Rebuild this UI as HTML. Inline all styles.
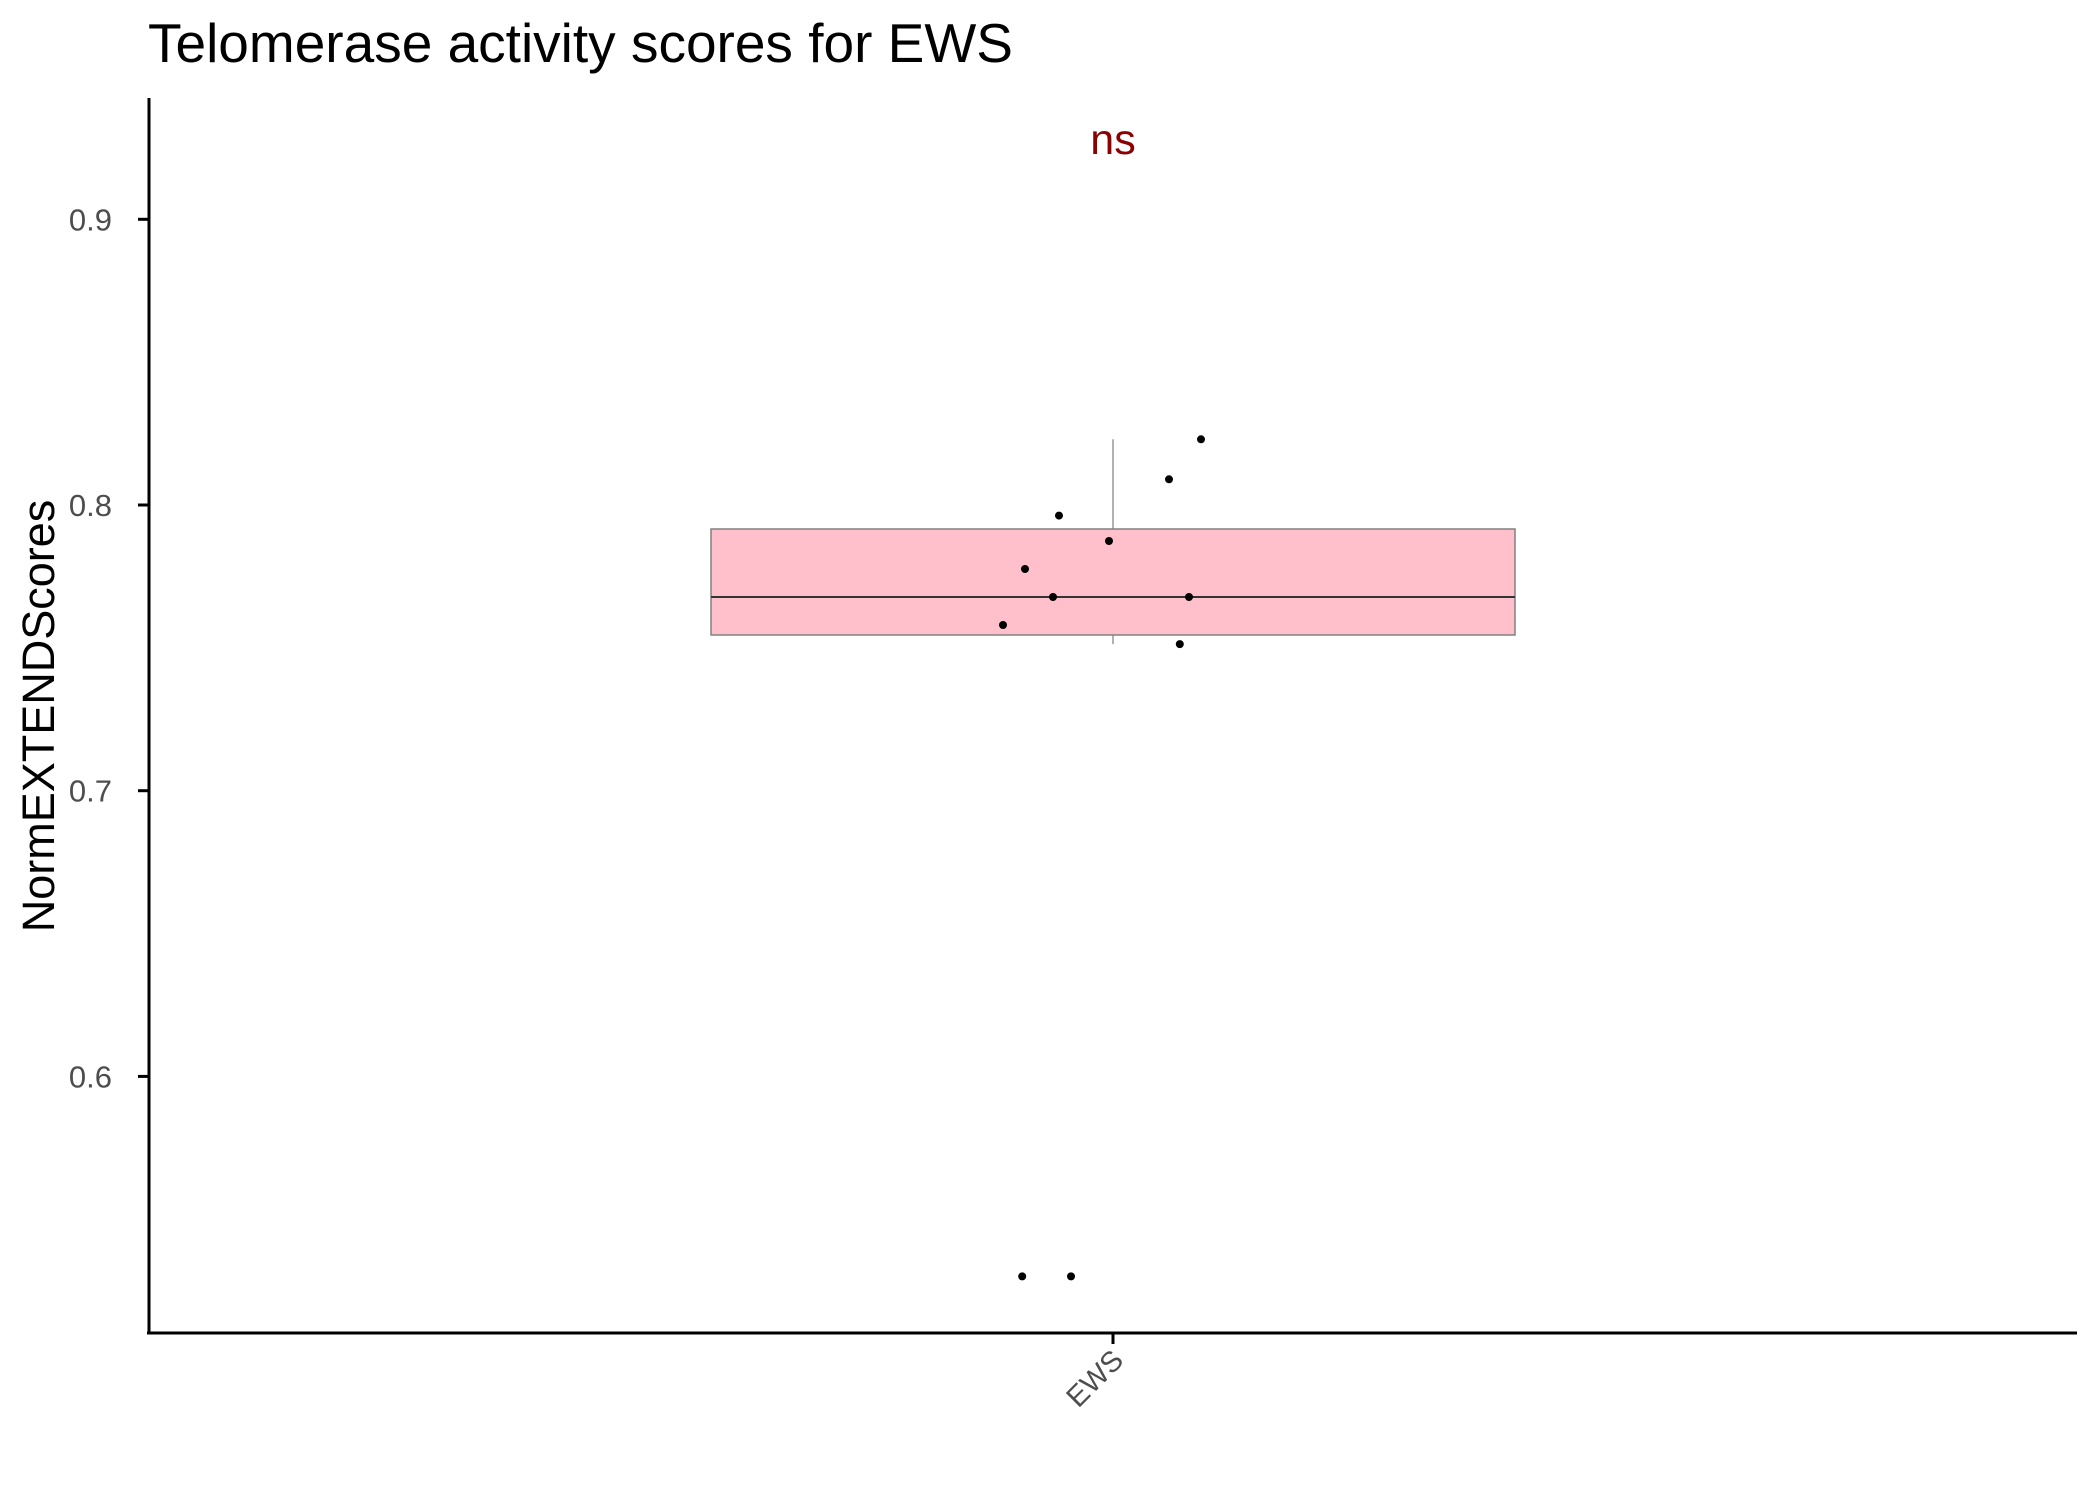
<!DOCTYPE html>
<html><head><meta charset="utf-8"><style>body{margin:0;background:#fff}svg{display:block}text{font-family:"Liberation Sans",sans-serif}</style></head>
<body>
<svg id="chart" width="2100" height="1500" viewBox="0 0 2100 1500">
<text x="148" y="62" font-size="55" fill="#000">Telomerase activity scores for EWS</text>
<g id="yaxis"></g>
<g id="plot"></g>
<line x1="149" y1="98" x2="149" y2="1334" stroke="#000" stroke-width="3"/>
<line x1="147" y1="1333" x2="2077" y2="1333" stroke="#000" stroke-width="3"/>
<text x="42" y="716" font-size="45" fill="#000" text-anchor="middle" transform="rotate(-90 42 716)" dominant-baseline="middle">NormEXTENDScores</text>
</svg>
<script>
const categories = ["EWS"];
const yTicks = [0.6, 0.7, 0.8, 0.9];
const boxLow = [0.7513], boxQ1 = [0.7545], boxMed = [0.7678], boxQ3 = [0.7916], boxHigh = [0.823];
const pointValues = [0.823, 0.809, 0.7963, 0.7874, 0.7776, 0.7678, 0.7678, 0.758, 0.7513, 0.530, 0.530];
const pointJitter = [0.22, 0.14, -0.135, -0.01, -0.22, -0.15, 0.19, -0.275, 0.167, -0.227, -0.105];
const sigLabel = "ns";

const NS = "http://www.w3.org/2000/svg";
const y = v => 505 - (v - 0.8) * 2857;
const x = i => 1113 + i * 0;
function mk(tag, attrs, parent){const e=document.createElementNS(NS,tag);for(const k in attrs)e.setAttribute(k,attrs[k]);parent.appendChild(e);return e;}
const ya = document.getElementById('yaxis'), plot = document.getElementById('plot');
yTicks.forEach(t=>{
  const l = mk('line',{x1:138,x2:149,y1:y(t),y2:y(t),stroke:'#000','stroke-width':3},ya);
  
  
  const tx = mk('text',{x:112,y:y(t)+11,'font-size':31,fill:'#4d4d4d','text-anchor':'end'},ya);
  tx.textContent = t.toFixed(1);
  
  
});
categories.forEach((c,i)=>{
  const cx = x(i);
  const w1 = mk('line',{x1:cx,x2:cx,y1:y(boxHigh[i]),y2:y(boxQ3[i]),stroke:'#999','stroke-width':1.5},plot);
  
  
  const w2 = mk('line',{x1:cx,x2:cx,y1:y(boxQ1[i]),y2:y(boxLow[i]),stroke:'#999','stroke-width':1.5},plot);
  
  
  const hw = 402;
  const r = mk('rect',{x:cx-hw,y:y(boxQ3[i]),width:2*hw,height:y(boxQ1[i])-y(boxQ3[i]),fill:'#ffc0cb',stroke:'#808080','stroke-width':1.5},plot);
  
  
  const m = mk('line',{x1:cx-hw,x2:cx+hw,y1:y(boxMed[i]),y2:y(boxMed[i]),stroke:'#333','stroke-width':2},plot);
  
  
  const tk = mk('line',{x1:cx,x2:cx,y1:1333,y2:1344,stroke:'#000','stroke-width':3},plot);
  
  
  const lb = mk('text',{x:cx+12,y:1362,'font-size':29,fill:'#4d4d4d','text-anchor':'end',transform:`rotate(-45 ${cx+12} 1362)`},plot);
  lb.textContent = c;
  
  
  const ns = mk('text',{x:cx,y:154,'font-size':43,fill:'#8b0000','text-anchor':'middle'},plot);
  ns.textContent = sigLabel;
  
  
});
pointValues.forEach((v,k)=>{
  const p = mk('circle',{cx:x(0)+pointJitter[k]*400,cy:y(v),r:4,fill:'#000'},plot);
  
  
});
</script>
</body></html>
